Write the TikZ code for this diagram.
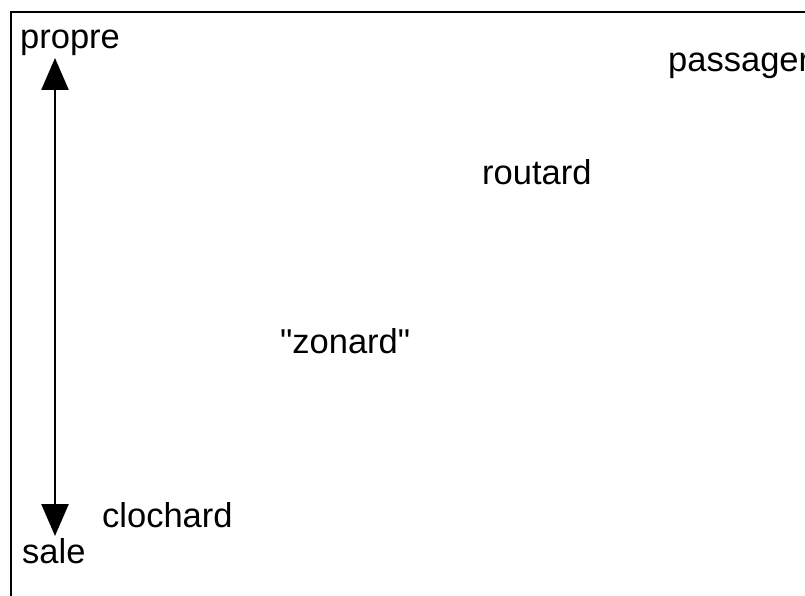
\documentclass[tikz,border=0pt]{standalone}
\usepackage{fontspec}
\setmainfont{Liberation Sans}
\usepackage{tikz}
\usetikzlibrary{arrows.meta}

\begin{document}
\begin{tikzpicture}[x=1pt, y=-1pt,
    lbl/.style={anchor=base west, inner sep=0pt, font=\fontsize{34.5}{40}\selectfont}]
  \useasboundingbox (0,0) rectangle (805,596);
  \draw[line width=2.5pt] (810,12) -- (11,12) -- (11,600);
  \node[lbl] (propre) at (20,49) {propre};
  \node[lbl] (sale) at (22,563) {sale};
  \node[lbl] (passager) at (668,72) {passager};
  \node[lbl] (routard) at (482,185) {routard};
  \node[lbl] (zonard) at (280,353) {\textquotedbl zonard\textquotedbl};
  \node[lbl] (clochard) at (102,527) {clochard};
  \coordinate (haut) at (55,58);
  \coordinate (bas) at (55,536);
  \draw[{Triangle[length=32pt,width=27pt]}-{Triangle[length=32pt,width=27pt]}, line width=2.5pt] (haut) -- (bas);
\end{tikzpicture}
\end{document}
